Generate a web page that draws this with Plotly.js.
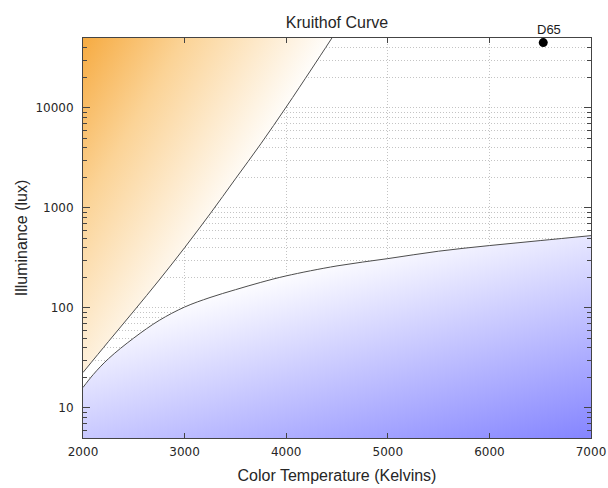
<!DOCTYPE html>
<html>
<head>
<meta charset="utf-8">
<script src="https://cdn.plot.ly/plotly-3.0.1.min.js"></script>
<style>
  html, body { margin: 0; padding: 0; background: #ffffff; }
  #chart { width: 608px; height: 488px; }
</style>
</head>
<body>
<div id="chart"></div>
<script>
// Upper bound of the comfortable region (too warm / too bright above it)
const upperK   = [2000, 2250, 2500, 2750, 3000, 3250, 3500, 3750, 4000, 4250, 4450];
const upperLux = [22.6, 46, 93, 190, 400, 870, 1950, 4370, 10200, 24500, 50000];

// Lower bound of the comfortable region (too dim / too cold below it)
const lowerK   = [2000, 2100, 2250, 2500, 2750, 3000, 3250, 3500, 3750, 4000, 4500, 5000, 5500, 6000, 6500, 7000];
const lowerLux = [16, 21.5, 31, 50, 75, 102, 127, 152, 180, 209, 263, 311, 369, 420, 471, 528];

// Standard daylight reference point
const d65Label = ['D65'];
const d65K     = [6530];
const d65Lux   = [45000];

// Axis extents and tick labels
const xRange = [2000, 7000];
const yRange = [5, 50000];
const xTicks = [2000, 3000, 4000, 5000, 6000, 7000];
const yTicks = [10, 100, 1000, 10000];

// Minor ticks at every digit of each decade inside the y range
const yMinor = [];
for (let p = 0; p <= 4; p++) {
  for (let d = 2; d <= 9; d++) {
    const v = d * Math.pow(10, p);
    if (v > yRange[0] && v < yRange[1]) yMinor.push(v);
  }
}

const warmFallback = 'rgb(251,214,160)';
const coolFallback = 'rgb(196,196,250)';
const curveLine = { color: '#4d4d4d', width: 1, shape: 'spline', smoothing: 1 };

const tickFont  = { family: 'DejaVu Sans', size: 12, color: '#262626' };
const titleFont = { family: 'Liberation Sans, Arial, sans-serif', size: 16, color: '#262626' };
const gridStyle = { gridcolor: '#c4c4c4', griddash: '1px,2px', gridwidth: 1 };

const data = [
  // top edge of the warm zone (plot ceiling, no line)
  { x: [upperK[0], upperK[upperK.length - 1]], y: [yRange[1], yRange[1]],
    type: 'scatter', mode: 'lines', line: { width: 0 }, hoverinfo: 'skip', showlegend: false },
  // upper bound, shaded up to the ceiling
  { x: upperK, y: upperLux, type: 'scatter', mode: 'lines', fill: 'tonexty',
    fillcolor: warmFallback, line: curveLine, showlegend: false },
  // bottom edge of the cool zone (plot floor, no line)
  { x: [lowerK[0], lowerK[lowerK.length - 1]], y: [yRange[0], yRange[0]],
    type: 'scatter', mode: 'lines', line: { width: 0 }, hoverinfo: 'skip', showlegend: false },
  // lower bound, shaded down to the floor
  { x: lowerK, y: lowerLux, type: 'scatter', mode: 'lines', fill: 'tonexty',
    fillcolor: coolFallback, line: curveLine, showlegend: false },
  { x: d65K, y: d65Lux, type: 'scatter', mode: 'markers',
    marker: { color: '#000000', size: 9 }, showlegend: false }
];

const layout = {
  width: 608, height: 488, autosize: false,
  margin: { l: 83, r: 17, t: 38, b: 50, pad: 0 },
  paper_bgcolor: '#ffffff', plot_bgcolor: '#ffffff',
  showlegend: false,
  title: {
    text: 'Kruithof Curve', font: titleFont,
    xref: 'paper', x: 0.5, xanchor: 'center',
    yref: 'container', y: 1 - 22 / 488, yanchor: 'middle'
  },
  xaxis: Object.assign({
    type: 'linear', range: xRange,
    tickmode: 'array', tickvals: xTicks, ticktext: xTicks.map(String),
    ticks: 'inside', ticklen: 5, tickcolor: '#444', tickwidth: 1,
    showline: true, linecolor: '#444', linewidth: 1, mirror: 'ticks',
    showgrid: true, zeroline: false,
    tickfont: tickFont, ticklabelstandoff: 3,
    title: { text: 'Color Temperature (Kelvins)', font: titleFont, standoff: 11 }
  }, gridStyle),
  yaxis: Object.assign({
    type: 'log', range: [Math.log10(yRange[0]), Math.log10(yRange[1])],
    tickmode: 'array', tickvals: yTicks, ticktext: yTicks.map(String),
    ticks: 'inside', ticklen: 7, tickcolor: '#444', tickwidth: 1,
    showline: true, linecolor: '#444', linewidth: 1, mirror: 'ticks',
    showgrid: true, zeroline: false,
    tickfont: tickFont, ticklabelstandoff: 6,
    minor: Object.assign({ tickmode: 'array', tickvals: yMinor,
      ticks: 'inside', ticklen: 4, tickcolor: '#444', showgrid: true }, gridStyle),
    title: { text: 'Illuminance (lux)', font: titleFont, standoff: 3 }
  }, gridStyle),
  annotations: [{
    x: d65K[0], y: Math.log10(d65Lux[0]), xref: 'x', yref: 'y',
    text: d65Label[0], showarrow: false,
    xshift: 6, yshift: 13,
    font: { family: 'Liberation Sans, Arial, sans-serif', size: 13, color: '#1a1a1a' }
  }]
};

const gd = document.getElementById('chart');
const SVGNS = 'http://www.w3.org/2000/svg';

// Linear gradient in plot-area pixels
function addLinearGradient(defs, id, p0, p1, stops) {
  const g = document.createElementNS(SVGNS, 'linearGradient');
  g.setAttribute('id', id);
  g.setAttribute('gradientUnits', 'userSpaceOnUse');
  g.setAttribute('x1', p0[0]); g.setAttribute('y1', p0[1]);
  g.setAttribute('x2', p1[0]); g.setAttribute('y2', p1[1]);
  stops.forEach(function (s) {
    const st = document.createElementNS(SVGNS, 'stop');
    st.setAttribute('offset', s[0]);
    st.setAttribute('stop-color', s[1]);
    g.appendChild(st);
  });
  defs.appendChild(g);
}

// End points (t = 0 and t = 1) of a ramp t = a*u + b*v + c, u/v being plot fractions
function rampEnds(w, h, a, b, c) {
  const gx = a / w, gy = b / h;
  const n2 = gx * gx + gy * gy;
  const cx = w / 2, cy = h / 2;
  const tc = a * 0.5 + b * 0.5 + c;
  const p0 = [cx - tc * gx / n2, cy - tc * gy / n2];
  const p1 = [p0[0] + gx / n2, p0[1] + gy / n2];
  return [p0, p1];
}

function sameColor(a, b) {
  return String(a).replace(/\s/g, '') === String(b).replace(/\s/g, '');
}

Plotly.newPlot(gd, data, layout, { staticPlot: true, displayModeBar: false }).then(function () {
  const size = gd._fullLayout._size;
  const svg = gd.querySelector('svg.main-svg');
  let defs = svg.querySelector('defs');
  if (!defs) { defs = document.createElementNS(SVGNS, 'defs'); svg.insertBefore(defs, svg.firstChild); }

  // warm zone: strongest in the top-left corner (t = 1), white along 2u + 0.95v = 1 (t = 0)
  const warm = rampEnds(size.w, size.h, -2.0, -0.95, 1.0);
  addLinearGradient(defs, 'warmZone', warm[1], warm[0],
    [[0, 'rgb(246,171,66)'], [0.4, 'rgb(251,211,150)'], [1, 'rgb(255,255,255)']]);

  // cool zone: white near the middle, deep blue in the bottom-right corner
  const cool = rampEnds(size.w, size.h, 0.56, 1.6, -1.15);
  addLinearGradient(defs, 'coolZone', cool[0], cool[1],
    [[0, 'rgb(255,255,255)'], [1, 'rgb(134,134,255)']]);

  gd.querySelectorAll('.scatterlayer path').forEach(function (p) {
    if (sameColor(p.style.fill, warmFallback)) p.style.fill = 'url(#warmZone)';
    else if (sameColor(p.style.fill, coolFallback)) p.style.fill = 'url(#coolZone)';
  });

  // dotted grid drawn over the shaded zones
  const sub = gd.querySelector('.cartesianlayer .subplot.xy');
  if (sub) {
    const grid = sub.querySelector('.gridlayer');
    const plot = sub.querySelector('.plot');
    if (grid && plot) sub.insertBefore(grid, plot.nextSibling);
  }
});
</script>
</body>
</html>
